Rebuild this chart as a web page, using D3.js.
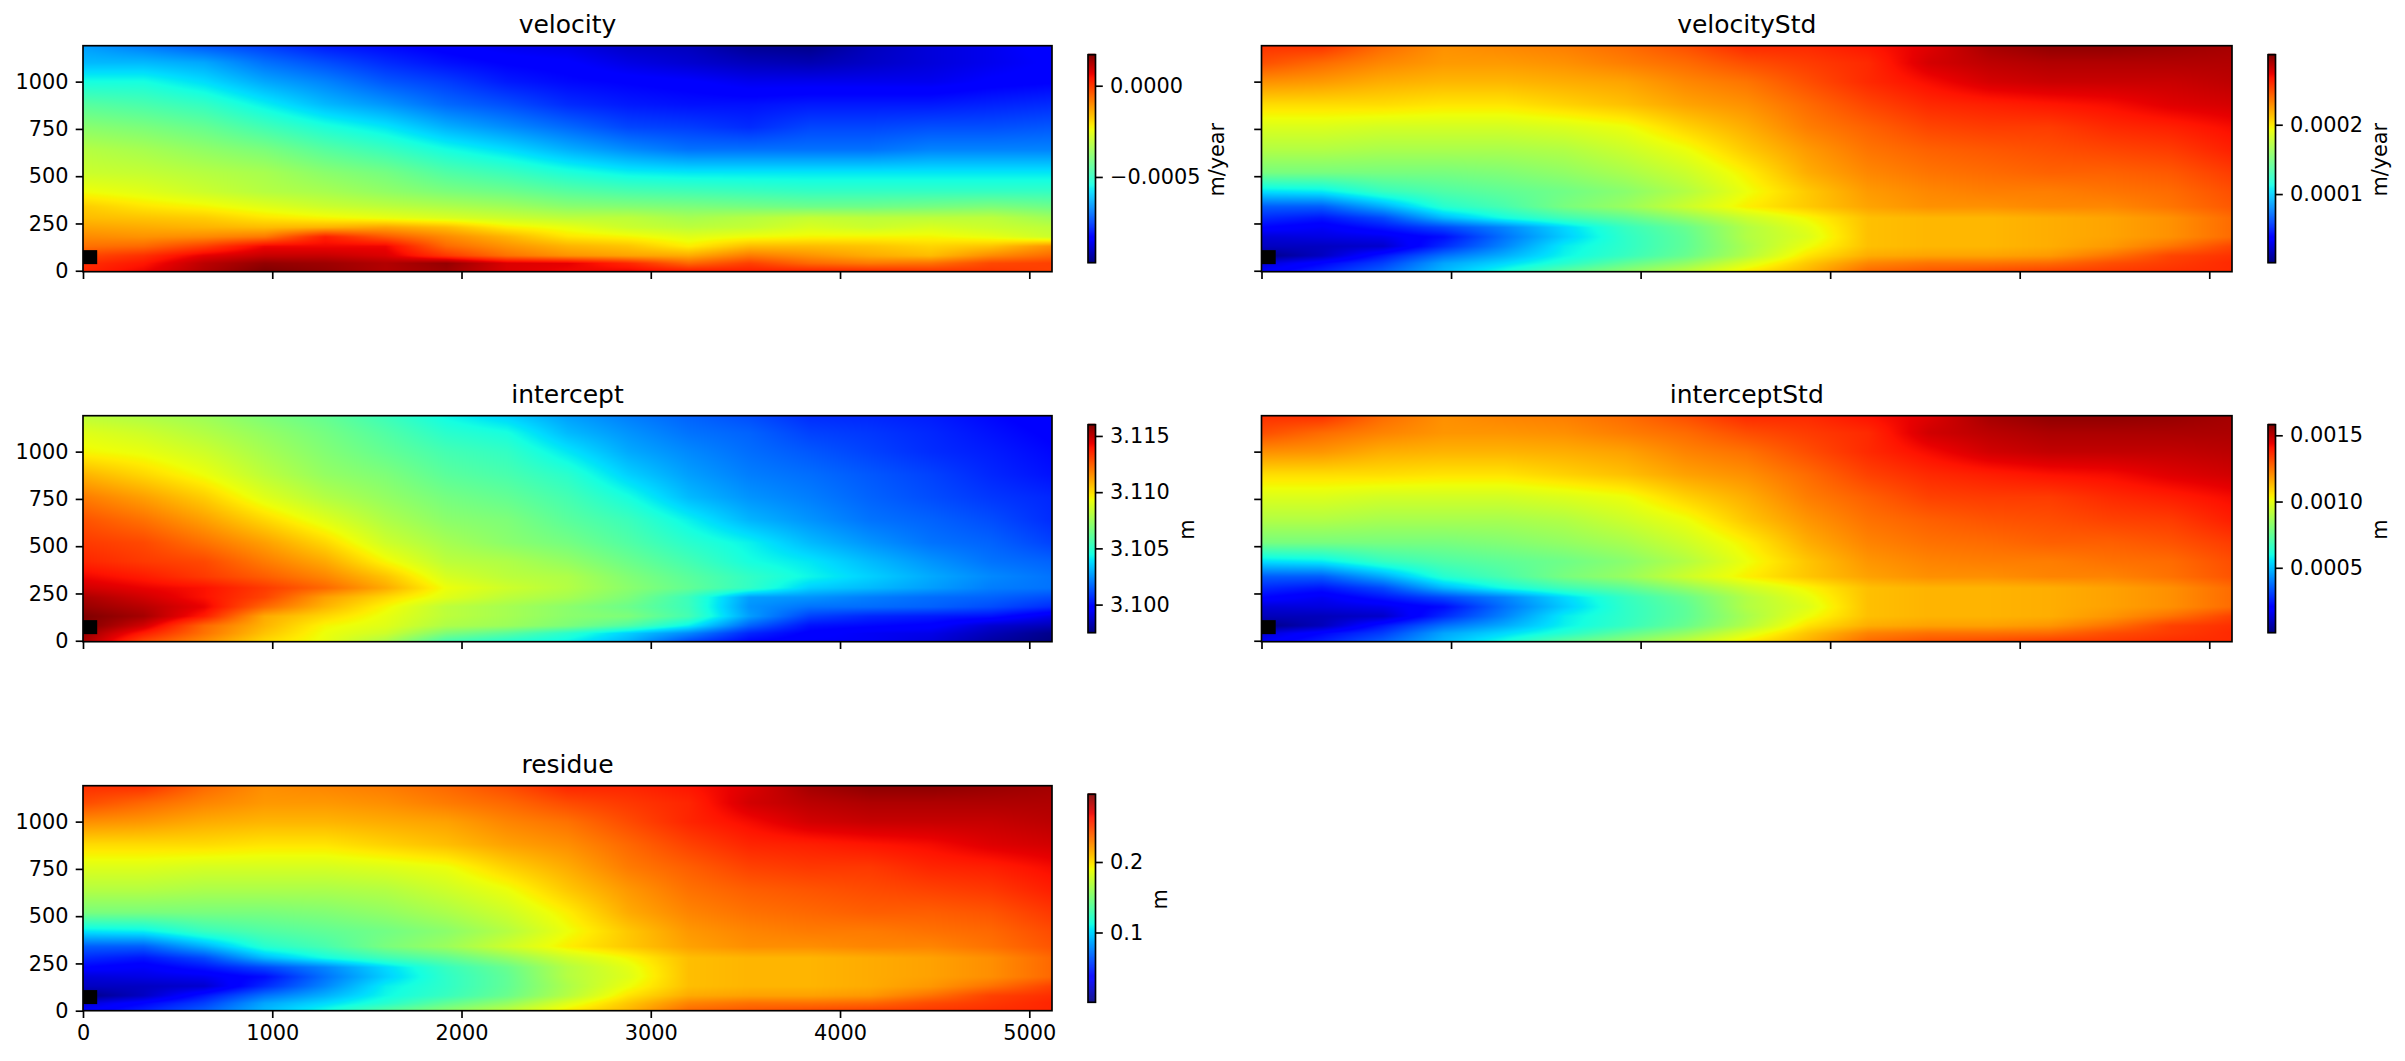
<!DOCTYPE html>
<html><head><meta charset="utf-8">
<style>html,body{margin:0;padding:0;background:#fff}svg{display:block}text{font-family:"DejaVu Sans";fill:#000}</style>
<script src="https://cdn.jsdelivr.net/npm/d3@7"></script>
</head><body>
<svg id="fig" width="2405" height="1061"></svg>
<script>
const xGrid=[0,320,640,960,1280,1600,1920,2240,2560,2880,3200,3520,3840,4160,4480,4800,5120];
const yGrid=[1190,1100,1000,880,760,640,520,420,340,280,230,180,130,80,40,0];
const xTicks=[0,1000,2000,3000,4000,5000];
const yTicks=[0,250,500,750,1000];
const referenceBox=[0,35,75,109];

// velocity, in 1e-5 m/year
const velocity=[
[-65,-69,-73,-76,-80,-82,-84,-86,-87,-90,-91,-95,-96,-91,-88,-86,-83],
[-62,-62,-64,-70,-74,-78,-81,-83,-84,-87,-89,-91,-92,-90,-88,-86,-84],
[-54,-54,-58,-64,-68,-73,-76,-80,-82,-83,-84,-86,-86,-86,-86,-84,-83],
[-45,-47,-50,-56,-62,-66,-71,-74,-78,-80,-81,-81,-80,-80,-80,-79,-78],
[-38,-40,-43,-48,-53,-57,-63,-67,-71,-75,-76,-78,-75,-75,-74,-74,-73],
[-32,-34,-37,-40,-45,-49,-54,-58,-63,-67,-70,-70,-70,-70,-68,-68,-68],
[-29,-30,-32,-34,-38,-41,-46,-49,-53,-56,-57,-57,-57,-57,-57,-57,-57],
[-24,-26,-29,-32,-34,-37,-40,-42,-45,-47,-48,-49,-50,-50,-50,-50,-50],
[-18,-21,-23,-26,-29,-31,-33,-35,-38,-39,-40,-41,-42,-42,-41,-40,-42],
[-16,-17,-18,-21,-23,-25,-27,-29,-31,-31,-34,-32,-30,-31,-31,-31,-35],
[-13,-14,-15,-16,-15,-13,-16,-22,-25,-29,-31,-30,-27,-29,-27,-29,-31],
[-10,-11,-10,-8,3,-4,-10,-15,-21,-23,-26,-24,-23,-23,-23,-25,-29],
[-7,-6,-1,6,6,6,-6,-11,-15,-17,-22,-16,-16,-17,-19,-17,-11],
[-2,1,7,10,10,8,0,-7,-11,-13,-14,-8,-11,-14,-16,-10,-6],
[1,4,11,15,14,12,15,8,7,2,-6,-1,-6,-8,-7,-2,-1],
[2,6,12,17,15,12,14,8,6,6,3,3,2,1,0,0,-1]];

// velocityStd, in 1e-6 m/year
const velocityStd=[
[258,258,240,228,231,234,240,249,261,261,267,276,291,297,297,294,291],
[249,240,231,225,225,228,234,240,249,255,261,279,285,288,288,288,288],
[228,225,219,216,216,219,222,231,237,249,261,270,279,282,282,282,285],
[204,204,204,201,201,207,213,222,228,240,252,261,264,267,270,276,279],
[186,186,183,183,183,186,192,207,219,234,243,252,255,255,261,264,270],
[171,171,168,168,168,171,180,192,210,225,237,243,246,249,252,255,264],
[150,150,150,150,153,159,168,180,198,219,231,237,240,243,243,246,255],
[105,108,126,135,141,147,156,171,192,210,225,231,234,234,237,240,249],
[66,66,90,120,132,150,162,180,198,210,222,228,228,231,231,237,246],
[51,45,60,93,114,129,141,159,180,195,213,216,216,219,222,228,240],
[39,33,45,60,78,102,126,144,171,189,213,216,216,219,222,228,240],
[24,27,30,42,72,99,123,141,171,186,213,216,216,219,222,228,240],
[18,18,21,51,78,108,123,141,168,192,213,216,216,219,225,237,252],
[3,18,45,72,90,111,126,144,171,201,219,222,222,225,237,252,258],
[24,39,57,87,102,120,141,159,186,210,231,237,237,240,249,255,261],
[33,48,66,93,114,138,156,174,198,216,240,246,249,252,255,258,261]];

// intercept, in 1e-4 m
const intercept=[
[31082,31079,31075,31068,31062,31053,31043,31036,31027,31021,31016,31012,31006,31005,31003,30999,30995],
[31090,31086,31080,31073,31066,31058,31049,31045,31032,31025,31019,31016,31010,31008,31005,31001,30997],
[31095,31092,31086,31077,31069,31062,31055,31051,31040,31029,31023,31018,31014,31010,31006,31003,30999],
[31108,31101,31093,31082,31073,31068,31060,31056,31049,31036,31027,31021,31018,31014,31010,31005,31001],
[31119,31112,31103,31090,31080,31073,31066,31062,31055,31045,31032,31025,31021,31016,31012,31008,31005],
[31127,31121,31112,31101,31090,31079,31071,31068,31060,31053,31042,31031,31025,31019,31016,31012,31006],
[31132,31129,31121,31112,31101,31086,31077,31071,31066,31058,31049,31042,31032,31025,31019,31016,31010],
[31136,31132,31129,31119,31110,31095,31082,31079,31073,31064,31055,31045,31040,31032,31025,31019,31016],
[31142,31138,31132,31125,31117,31105,31088,31082,31079,31069,31060,31051,31043,31036,31029,31023,31019],
[31147,31143,31140,31132,31123,31110,31093,31086,31080,31071,31062,31051,31036,31032,31027,31021,31019],
[31153,31147,31140,31130,31112,31101,31090,31082,31077,31068,31053,31027,31025,31021,31018,31016,31012],
[31156,31151,31143,31123,31108,31095,31082,31077,31071,31064,31053,31025,31019,31018,31016,31012,31006],
[31160,31154,31138,31110,31101,31092,31082,31077,31071,31068,31055,31027,31010,31005,31003,31001,30992],
[31160,31147,31123,31108,31095,31090,31079,31075,31068,31058,31042,31016,31001,30999,30997,30988,30984],
[31156,31138,31121,31105,31093,31086,31068,31060,31049,31036,31023,31005,30997,30994,30992,30984,30977],
[31154,31130,31116,31101,31092,31079,31056,31049,31043,31031,31012,30999,30995,30994,30990,30981,30975]];

// interceptStd, in 1e-5 m
const interceptStd=[
[136,136,126,120,122,123,126,131,137,137,141,145,153,156,156,155,153],
[131,126,122,119,119,120,123,126,131,134,137,147,150,152,152,152,152],
[120,119,115,114,114,115,117,122,125,131,137,142,147,149,149,149,150],
[107,107,107,106,106,109,112,117,120,126,133,137,139,141,142,145,147],
[98,98,96,96,96,98,101,109,115,123,128,133,134,134,137,139,142],
[90,90,88,88,88,90,95,101,111,119,125,128,130,131,133,134,139],
[79,79,79,79,81,84,88,95,104,115,122,125,126,128,128,130,134],
[55,57,66,71,74,77,82,90,101,111,119,122,123,123,125,126,131],
[35,35,47,63,70,79,85,95,104,111,117,120,120,122,122,125,130],
[27,24,32,49,60,68,74,84,95,103,112,114,114,115,117,120,126],
[21,17,24,32,41,54,66,76,90,100,112,114,114,115,117,120,126],
[13,14,16,22,38,52,65,74,90,98,112,114,114,115,117,120,126],
[9,9,11,27,41,57,65,74,88,101,112,114,114,115,119,125,133],
[2,9,24,38,47,58,66,76,90,106,115,117,117,119,125,133,136],
[13,21,30,46,54,63,74,84,98,111,122,125,125,126,131,134,137],
[17,25,35,49,60,73,82,92,104,114,126,130,131,133,134,136,137]];

// residue, in 1e-3 m
const residue=[
[255,255,237,225,228,231,237,246,258,258,263,272,287,293,293,290,287],
[246,237,228,222,222,225,231,237,246,252,258,275,281,284,284,284,284],
[225,222,216,213,213,216,219,228,234,246,258,266,275,278,278,278,281],
[201,201,201,198,198,204,210,219,225,237,249,258,260,263,266,272,275],
[184,184,181,181,181,184,189,204,216,231,240,249,252,252,258,260,266],
[169,169,166,166,166,169,178,189,207,222,234,240,243,246,249,252,260],
[148,148,148,148,151,157,166,178,195,216,228,234,237,240,240,243,252],
[104,107,124,133,139,145,154,169,189,207,222,228,231,231,234,237,246],
[65,65,89,118,130,148,160,178,195,207,219,225,225,228,228,234,243],
[50,44,59,92,112,127,139,157,178,192,210,213,213,216,219,225,237],
[38,33,44,59,77,101,124,142,169,186,210,213,213,216,219,225,237],
[24,27,30,41,71,98,121,139,169,184,210,213,213,216,219,225,237],
[18,18,21,50,77,107,121,139,166,189,210,213,213,216,222,234,249],
[3,18,44,71,89,110,124,142,169,198,216,219,219,222,234,249,255],
[24,38,56,86,101,118,139,157,184,207,228,234,234,237,246,252,258],
[33,47,65,92,112,136,154,172,195,213,237,243,246,249,252,255,258]];

const panels=[
 {title:"velocity",grid:velocity,domain:[-97,17],unit:"m/year",ticks:[-50,0],fmt:d=>d3.format(".4f")(d*1e-5).replace("-","\u2212"),col:0,row:0},
 {title:"velocityStd",grid:velocityStd,domain:[1,301],unit:"m/year",ticks:[100,200],fmt:d=>d3.format(".4f")(d*1e-6),col:1,row:0},
 {title:"intercept",grid:intercept,domain:[30975,31160],unit:"m",ticks:[31000,31050,31100,31150],fmt:d=>d3.format(".3f")(d*1e-4),col:0,row:1},
 {title:"interceptStd",grid:interceptStd,domain:[1,158],unit:"m",ticks:[50,100,150],fmt:d=>d3.format(".4f")(d*1e-5),col:1,row:1},
 {title:"residue",grid:residue,domain:[1,296],unit:"m",ticks:[100,200],fmt:d=>d3.format(".1f")(d*1e-3),col:0,row:2}
];

const colBox=[{l:83,r:1052,cl:1088,cr:1095.5},{l:1261.5,r:2232,cl:2268,cr:2275.5}];
const rowBox=[{t:45.7,b:271.7,y0:-5,ct:54.7,cb:262.7},{t:415.7,b:641.7,y0:-5,ct:424.7,cb:632.7},{t:785.7,b:1010.7,y0:0,ct:794.3,cb:1002.3}];

// matplotlib jet
function ramp(pts,t){return d3.scaleLinear(pts.map(p=>p[0]),pts.map(p=>p[1])).clamp(true)(t);}
const rP=[[0,0],[.35,0],[.66,1],[.89,1],[1,.5]],gP=[[0,0],[.125,0],[.375,1],[.64,1],[.91,0],[1,0]],bP=[[0,.5],[.11,1],[.34,1],[.65,0],[1,0]];
const jet=t=>[ramp(rP,t),ramp(gP,t),ramp(bP,t)].map(v=>Math.round(v*255));

const svg=d3.select("#fig");
const S=1.67,FS=20.83,TL=7.3;
panels.forEach(p=>{
  const c=colBox[p.col],r=rowBox[p.row];
  const x=d3.scaleLinear([0,5120],[c.l,c.r]);
  const y=d3.scaleLinear([r.y0,1190],[r.b,r.t]);
  const w=Math.round(c.r-c.l),h=Math.round(r.b-r.t);
  const cv=document.createElement("canvas");cv.width=w;cv.height=h;
  const ctx=cv.getContext("2d"),img=ctx.createImageData(w,h);
  const ix=d3.scaleLinear(xGrid,d3.range(xGrid.length)).clamp(true);
  const iy=d3.scaleLinear(yGrid.slice().reverse(),d3.range(yGrid.length).reverse()).clamp(true);
  const norm=d3.scaleLinear(p.domain,[0,1]).clamp(true);
  for(let j=0;j<h;j++){
    const fy=iy(y.invert(r.t+(j+.5)*(r.b-r.t)/h));
    const j0=Math.min(Math.floor(fy),yGrid.length-2),ty=fy-j0;
    for(let i=0;i<w;i++){
      const fx=ix(x.invert(c.l+(i+.5)*(c.r-c.l)/w));
      const i0=Math.min(Math.floor(fx),xGrid.length-2),tx=fx-i0;
      const v=(1-ty)*((1-tx)*p.grid[j0][i0]+tx*p.grid[j0][i0+1])+ty*((1-tx)*p.grid[j0+1][i0]+tx*p.grid[j0+1][i0+1]);
      const col=jet(norm(v)),k=(j*w+i)*4;
      img.data[k]=col[0];img.data[k+1]=col[1];img.data[k+2]=col[2];img.data[k+3]=255;
    }
  }
  ctx.putImageData(img,0,0);
  const g=svg.append("g");
  g.append("image").attr("x",c.l).attr("y",r.t).attr("width",c.r-c.l).attr("height",r.b-r.t)
    .attr("preserveAspectRatio","none").attr("href",cv.toDataURL());
  g.append("rect").attr("class","reference").attr("x",x(referenceBox[0])).attr("y",y(referenceBox[3]))
    .attr("width",x(referenceBox[2])-x(referenceBox[0])).attr("height",y(referenceBox[1])-y(referenceBox[3])).attr("fill","#000");
  const xa=d3.axisBottom(x).tickValues(xTicks).tickSize(TL).tickPadding(TL).tickFormat(p.row===2?d3.format("d"):"");
  const ya=d3.axisLeft(y).tickValues(yTicks).tickSize(TL).tickPadding(TL).tickFormat(p.col===0?d3.format("d"):"");
  const ga=[g.append("g").attr("transform",`translate(0,${r.b})`).call(xa),
            g.append("g").attr("transform",`translate(${c.l},0)`).call(ya)];
  ga.forEach(a=>{a.select(".domain").remove();a.selectAll("line").attr("stroke","#000").attr("stroke-width",S);a.selectAll("text").attr("font-size",FS).attr("font-family","DejaVu Sans");});
  g.append("rect").attr("x",c.l).attr("y",r.t).attr("width",c.r-c.l).attr("height",r.b-r.t).attr("fill","none").attr("stroke","#000").attr("stroke-width",S);
  g.append("text").attr("x",(c.l+c.r)/2).attr("y",r.t-12.5).attr("text-anchor","middle").attr("font-size",25).text(p.title);

  // colorbar
  const cy=d3.scaleLinear(p.domain,[r.cb,r.ct]);
  const cols=d3.range(0,Math.ceil(r.cb-r.ct)).map(i=>i/(Math.ceil(r.cb-r.ct)-1));
  g.append("g").selectAll("rect").data(cols).join("rect")
    .attr("x",c.cl).attr("width",c.cr-c.cl)
    .attr("y",t=>cy(norm.invert(t))-1).attr("height",1.4)
    .attr("fill",t=>"rgb("+jet(t).join(",")+")");
  g.append("rect").attr("x",c.cl).attr("y",r.ct).attr("width",c.cr-c.cl).attr("height",r.cb-r.ct).attr("fill","none").attr("stroke","#000").attr("stroke-width",S);
  const ca=g.append("g").attr("transform",`translate(${c.cr},0)`).call(d3.axisRight(cy).tickValues(p.ticks).tickSize(TL).tickPadding(TL).tickFormat(p.fmt));
  ca.select(".domain").remove();
  ca.selectAll("line").attr("stroke","#000").attr("stroke-width",S);
  ca.selectAll("text").attr("font-size",FS).attr("font-family","DejaVu Sans");
  const right=d3.max(ca.selectAll("text").nodes().map(n=>n.getBoundingClientRect().right));
  g.append("text").attr("transform",`translate(${right+8+16},${(r.ct+r.cb)/2+1}) rotate(-90)`)
    .attr("text-anchor","middle").attr("font-size",FS).text(p.unit);
});
</script>
</body></html>
